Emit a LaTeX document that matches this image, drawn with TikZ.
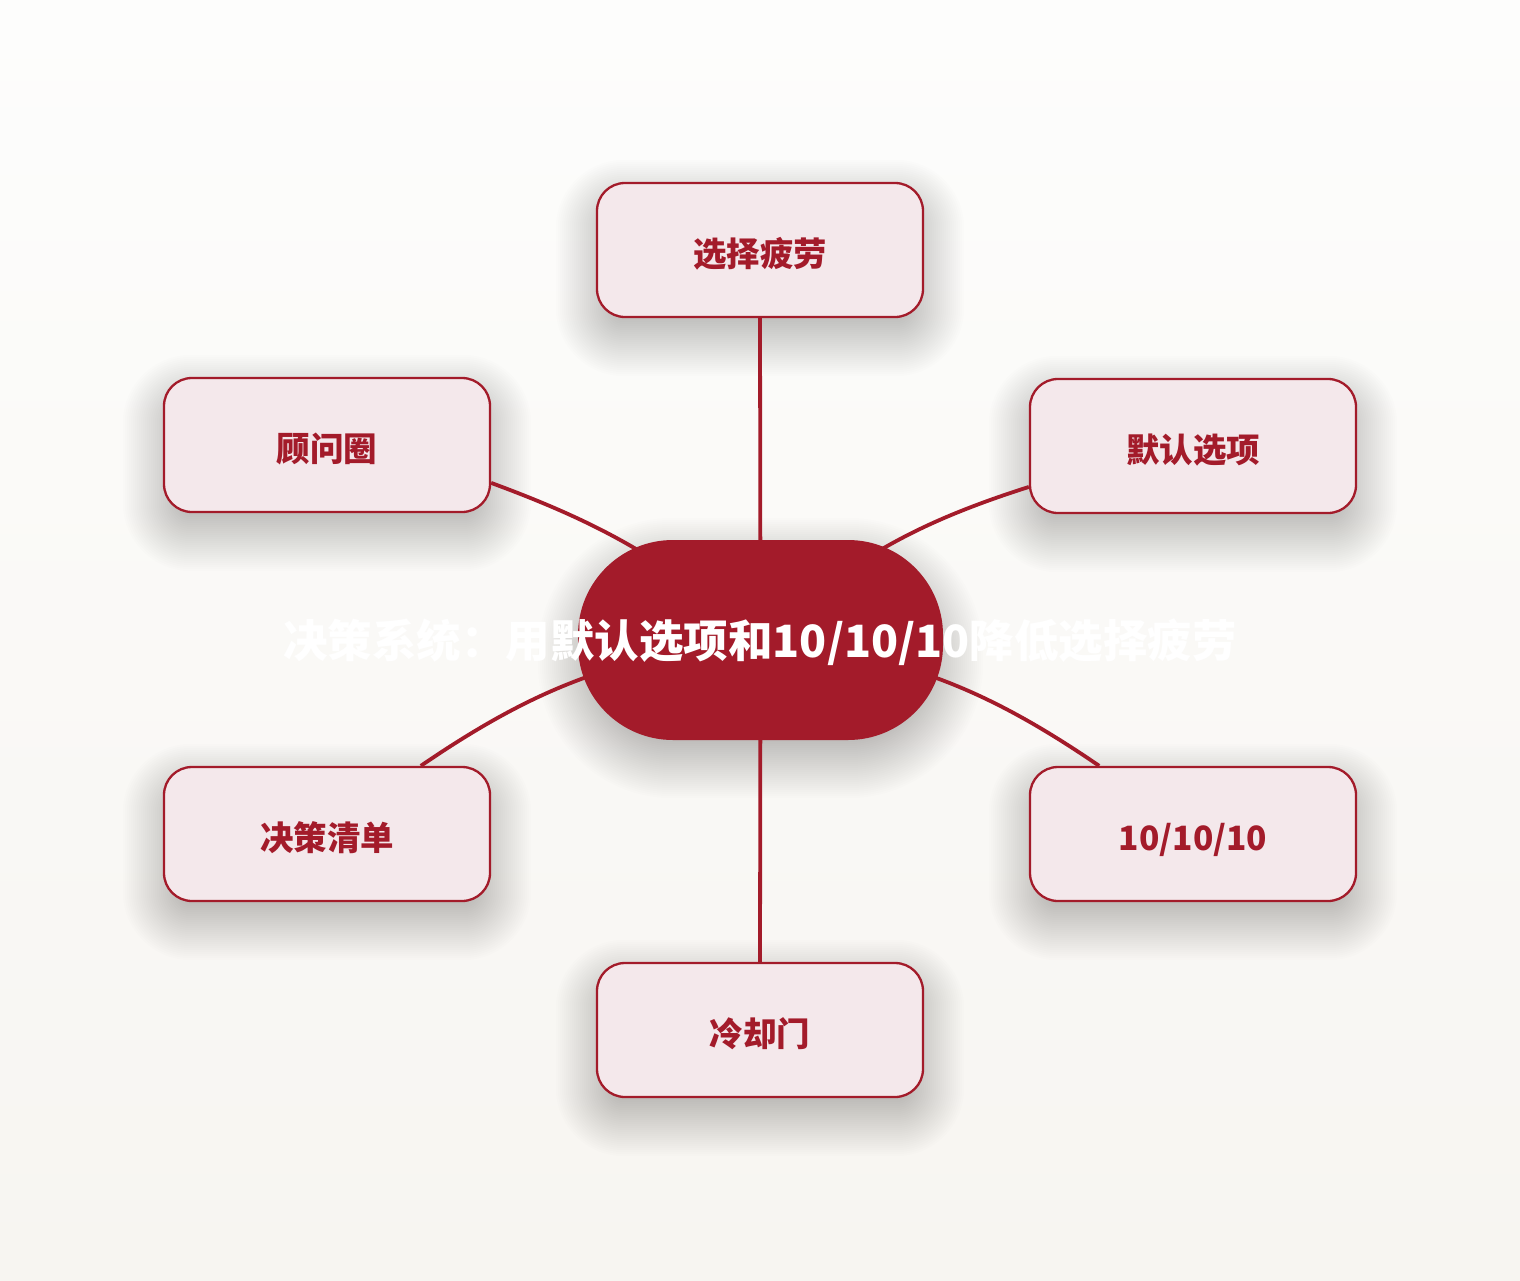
\documentclass[tikz,border=0pt]{standalone}
\usepackage{fontspec}
\setmainfont{Noto Sans CJK SC}
\definecolor{dred}{HTML}{A31B2A}
\definecolor{pinkf}{HTML}{F4E8EB}
\definecolor{bgtop}{HTML}{FDFDFC}
\definecolor{bgbot}{HTML}{F7F5F1}
\pgfdeclarelayer{back}
\pgfdeclarelayer{shadowlayer}
\pgfdeclarelayer{edges}
\pgfsetlayers{back,shadowlayer,edges,main}
\tikzset{
  leaf/.style={draw=dred, line width=2.3pt, fill=pinkf, rounded corners=28pt,
    minimum width=326pt, minimum height=134pt, text=dred,
    text height=36pt, text depth=4pt,
    font=\bfseries\fontsize{33.5}{40}\selectfont},
  hub/.style={fill=dred, rounded corners=95pt, minimum width=365pt, minimum height=200pt},
  hubtext/.style={text=white, font=\bfseries\fontsize{44.5}{50}\selectfont},
  link/.style={draw=dred, line width=3.8pt},
  shadowfill/.style={fill=black, fill opacity=0.009}
}
\newcommand\mysoftshadow[2]{%
  \foreach \e in {-16,-14,...,40} {%
    \pgfmathsetmacro\rr{max(#2+\e,2)}%
    \fill[shadowfill, rounded corners=\rr pt]
      ([shift={(-\e,-\e+18)}]#1.north west) rectangle ([shift={(\e,\e+18)}]#1.south east);
  }%
}
\begin{document}
\begin{tikzpicture}[x=1pt,y=-1pt]
\useasboundingbox (0,0) rectangle (1520,1280);
\begin{pgfonlayer}{back}
\shade[top color=bgtop, bottom color=bgbot] (0,0) rectangle (1520,1280);
\end{pgfonlayer}
\node[hub] (c) at (760.5,640) {};
\node[hubtext] (title) at (760,642) {决策系统：用默认选项和10/10/10降低选择疲劳};
\node[leaf] (t) at (760,250) {选择疲劳};
\node[leaf] (ul) at (327,445) {顾问圈};
\node[leaf] (ur) at (1193,446) {默认选项};
\node[leaf] (ll) at (327,834) {决策清单};
\node[leaf] (lr) at (1193,834) {10/10/10};
\node[leaf] (b) at (760,1030) {冷却门};
\begin{pgfonlayer}{shadowlayer}
\mysoftshadow{c}{95}
\mysoftshadow{t}{28}
\mysoftshadow{ul}{28}
\mysoftshadow{ur}{28}
\mysoftshadow{ll}{28}
\mysoftshadow{lr}{28}
\mysoftshadow{b}{28}
\end{pgfonlayer}
\begin{pgfonlayer}{edges}
\draw[link] (t.south) -- (c.center);
\draw[link] (b.north) -- (c.center);
\draw[link] (ul.-13) to[bend left=10] (c.center);
\draw[link] (ll.36) to[bend left=14] (c.center);
\draw[link] (ur.194) to[bend right=12] (c.center);
\draw[link] (lr.144) to[bend right=14] (c.center);
\end{pgfonlayer}
\end{tikzpicture}
\end{document}
